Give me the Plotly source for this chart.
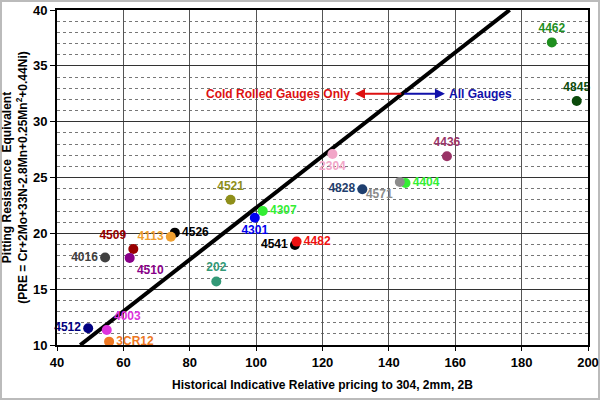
import plotly.graph_objects as go

grades = ["4462", "4845", "4436", "4404", "4571", "4828", "2304", "4307", "4301", "4541",
          "4482", "4521", "4526", "4113", "4509", "4510", "4016", "202", "4512", "4003", "3CR12"]
price = [189.1, 196.6, 157.5, 145.0, 143.3, 132.0, 123.0, 102.0, 99.6, 111.7,
         112.2, 92.3, 75.5, 74.3, 63.0, 61.9, 54.5, 88.0, 49.4, 55.0, 55.7]
pre = [37.1, 31.85, 26.9, 24.5, 24.6, 23.95, 27.1, 22.0, 21.4, 18.96,
       19.26, 23.0, 20.06, 19.7, 18.6, 17.8, 17.83, 15.68, 11.5, 11.35, 10.3]
colors = ["#1f8f1f", "#0b4a0b", "#993366", "#33ee33", "#8c8c8c", "#1f3f6f", "#f2a6c8", "#33ee33",
          "#0000ee", "#000000", "#ee1111", "#8f8f1a", "#000000", "#f0a030", "#990000", "#880088",
          "#404040", "#339977", "#000080", "#dd33dd", "#ee7722"]
label_pos = ["top center", "top center", "top center", "middle right", "bottom left", "middle left",
             "bottom center", "middle right", "bottom center", "middle left", "middle right",
             "top center", "middle right", "middle left", "top left", "bottom right", "middle left",
             "top center", "middle left", "top right", "middle right"]

trend_x = [47.0, 176.4]
trend_y = [10.0, 40.0]

arrow_y = 32.5
arrow_start = 144.2
cold_end = 129.8
all_end = 156.9

FONT = "Liberation Sans, Arial, sans-serif"

fig = go.Figure()
fig.add_trace(go.Scatter(x=trend_x, y=trend_y, mode="lines",
                         line=dict(color="black", width=4), hoverinfo="skip", showlegend=False))
fig.add_trace(go.Scatter(
    x=price, y=pre, mode="markers+text", text=grades, textposition=label_pos,
    marker=dict(color=colors, size=10),
    textfont=dict(color=colors, size=12, family=FONT, weight="bold"),
    showlegend=False, cliponaxis=False))

fig.add_annotation(x=cold_end, y=arrow_y, ax=arrow_start, ay=arrow_y, xref="x", yref="y",
                   axref="x", ayref="y", showarrow=True, arrowhead=2, arrowsize=1,
                   arrowwidth=2, arrowcolor="#dd1111", text="")
fig.add_annotation(x=all_end, y=arrow_y, ax=arrow_start, ay=arrow_y, xref="x", yref="y",
                   axref="x", ayref="y", showarrow=True, arrowhead=2, arrowsize=1,
                   arrowwidth=2, arrowcolor="#1111aa", text="")
fig.add_annotation(x=cold_end - 0.8, y=arrow_y, text="Cold Rolled Gauges Only", showarrow=False,
                   xanchor="right", font=dict(color="#dd1111", size=12, family=FONT, weight="bold"))
fig.add_annotation(x=all_end + 0.5, y=arrow_y, text="All Gauges", showarrow=False,
                   xanchor="left", font=dict(color="#1111aa", size=12, family=FONT, weight="bold"))

# outer light border around the whole picture
L, R, T, B = 57, 12, 10, 55
pw, ph = 600 - L - R, 400 - T - B
fig.add_shape(type="rect", xref="paper", yref="paper",
              x0=-(L - 1) / pw, x1=1 + (R - 1) / pw, y0=-(B - 1) / ph, y1=1 + (T - 1) / ph,
              line=dict(color="#bbbbbb", width=2), layer="below")

fig.update_layout(
    width=600, height=400, margin=dict(l=L, r=R, t=T, b=B, autoexpand=False),
    plot_bgcolor="white", paper_bgcolor="white",
    font=dict(family=FONT, color="black"),
    xaxis=dict(range=[40, 200], dtick=20, tick0=40, showgrid=True, gridcolor="#555555",
               gridwidth=1, zeroline=False, showline=True, linecolor="black", linewidth=2,
               mirror=True, ticks="outside", ticklen=4, tickcolor="black", automargin=False,
               tickfont=dict(size=13, family=FONT, weight="bold"),
               title=dict(text="Historical Indicative Relative pricing to 304, 2mm, 2B",
                          font=dict(size=12, family=FONT, weight="bold"), standoff=12)),
    yaxis=dict(range=[10, 40], dtick=5, tick0=10, showgrid=True, gridcolor="#333333",
               gridwidth=1, zeroline=False, showline=True, linecolor="black", linewidth=2,
               mirror=True, ticks="outside", ticklen=5, tickcolor="black", automargin=False,
               tickfont=dict(size=13, family=FONT, weight="bold"),
               minor=dict(dtick=1, showgrid=True, gridcolor="#777777", griddash="dot",
                          gridwidth=1),
               title=dict(text="Pitting Resistance  Equivalent<br>(PRE = Cr+2Mo+33N-2.8Mn+0.25Mn<sup>2</sup>+0.44Ni)",
                          font=dict(size=12, family=FONT, weight="bold"), standoff=6)),
)

fig.write_html("out.html")
